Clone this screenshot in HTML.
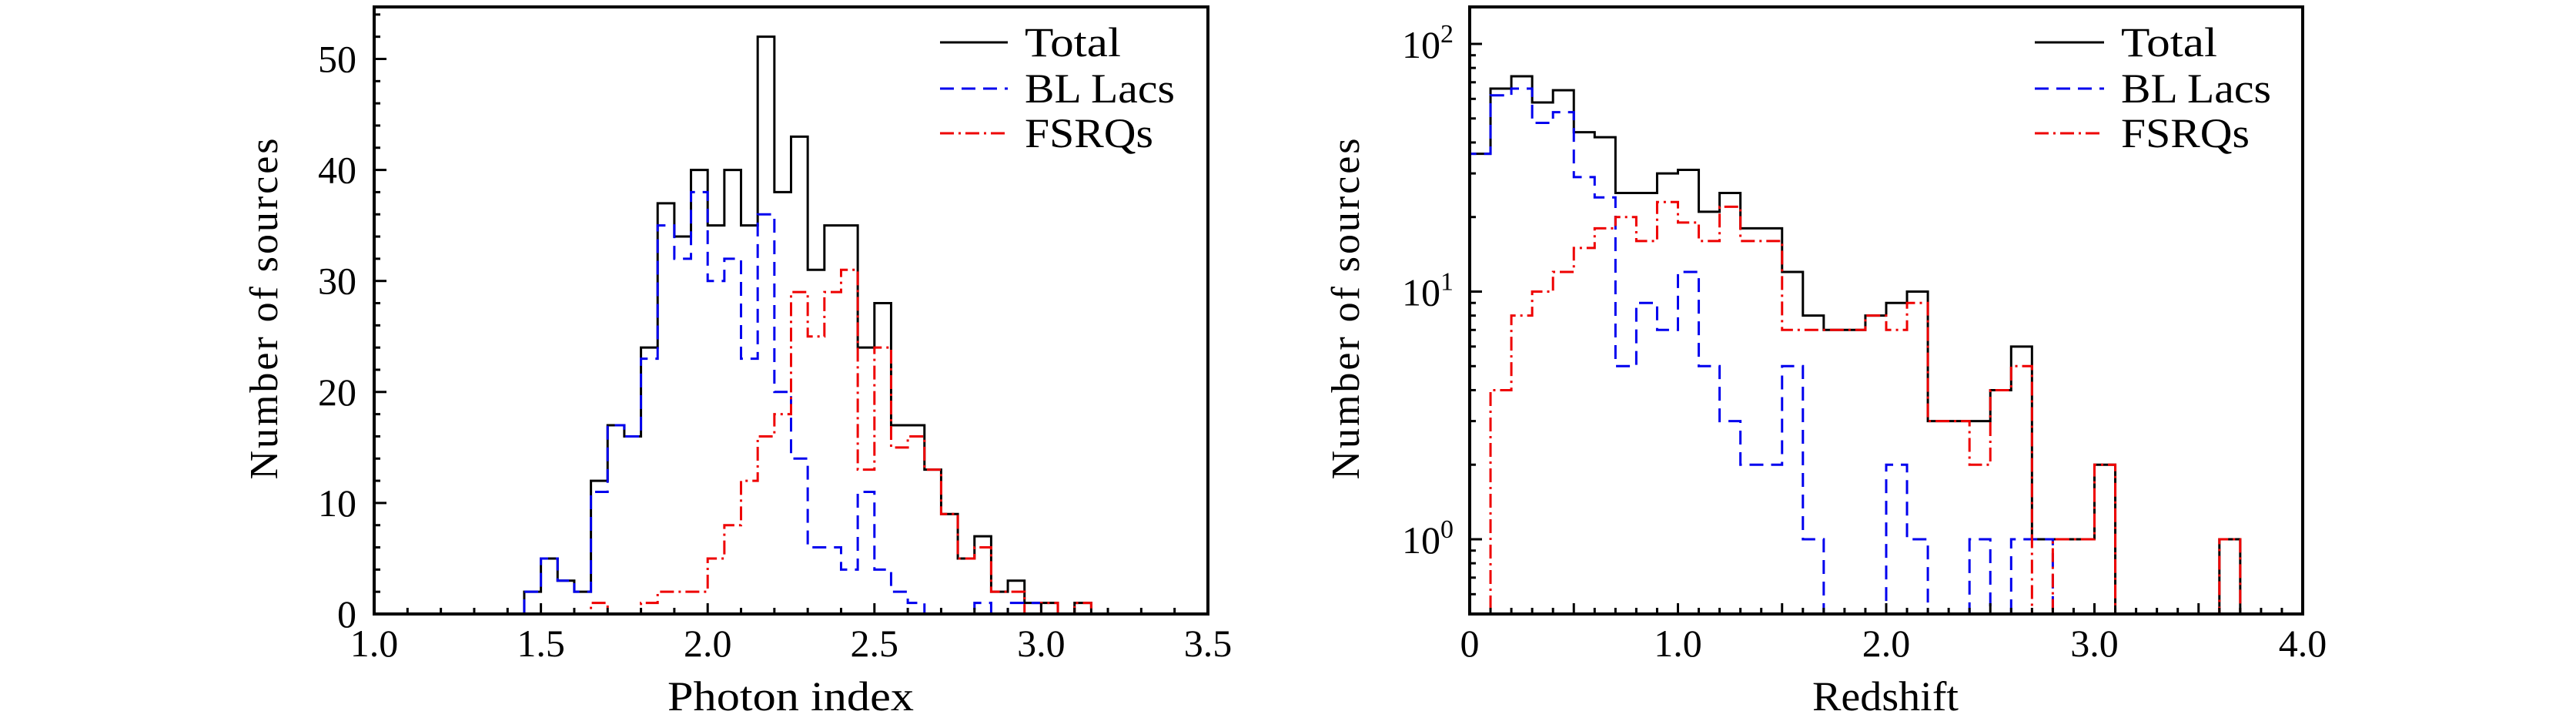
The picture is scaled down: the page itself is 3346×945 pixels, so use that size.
<!DOCTYPE html>
<html><head><meta charset="utf-8"><style>
html,body{margin:0;padding:0;background:#fff;}
svg{display:block;}
svg text{font-family:"Liberation Serif","DejaVu Serif",serif;}
</style></head><body>
<svg id="chart" width="3346" height="945" viewBox="0 0 3346 945" xmlns="http://www.w3.org/2000/svg" font-family="Liberation Serif, serif">
<g id="left"></g>
<g id="right"></g>
</svg>
<script>
// ---- Left panel data (photon index, bin width 0.05) ----
const gammaBinStart = 1.45;
const gammaBinWidth = 0.05;
const gammaTotal = [2,5,3,2,12,17,16,24,37,34,40,35,40,35,52,38,43,31,35,35,24,28,17,17,13,9,5,7,2,3,1,1,0,1];
const gammaBL    = [2,5,3,2,11,17,16,23,35,32,38,30,32,23,36,20,14,6,6,4,11,4,2,1,0,0,0,1,0,1,1,0,0,0];
const gammaFSRQ  = [0,0,0,0,1,0,0,1,2,2,2,5,8,12,16,18,29,25,29,31,13,24,15,16,13,9,5,6,2,2,0,1,0,1];
const gammaXTicks = ["1.0","1.5","2.0","2.5","3.0","3.5"];
const gammaYTicks = [0,10,20,30,40,50];

// ---- Right panel data (redshift, bin width 0.1) ----
const zBinStart = 0.0;
const zBinWidth = 0.1;
const zTotal = [36,66,74,58,65,44,42,25,25,30,31,21,25,18,18,12,8,7,7,8,9,10,3,3,3,4,6,1,1,1,2,0,0,0,0,0,1];
const zBL    = [36,62,66,48,53,29,24,5,9,7,12,5,3,2,2,5,1,0,0,0,2,1,0,0,1,0,1,1,0,0,0,0,0,0,0,0,0];
const zFSRQ  = [0,4,8,10,12,15,18,20,16,23,19,16,22,16,16,7,7,7,7,8,7,9,3,3,2,4,5,0,1,1,2,0,0,0,0,0,1];
const zXTicks = ["0","1.0","2.0","3.0","4.0"];
const zYTickExp = [0,1,2];

const NS="http://www.w3.org/2000/svg";
const FONT="Liberation Serif, DejaVu Serif, serif";
function mk(tag, attrs, parent){const e=document.createElementNS(NS,tag);for(const k in attrs)e.setAttribute(k,attrs[k]);if(tag==="text")e.setAttribute("font-family",FONT);if(parent)parent.appendChild(e);return e;}

const styles = {
  total:{stroke:"#000",dash:null},
  bl:{stroke:"#0000ee",dash:"18 10"},
  fsrq:{stroke:"#ee0000",dash:"18 6 3 6"}
};

function stepPath(g, xs, ys, xmin, xmax, start, width, vals, st, name){
  let d="M"+xs(xmin)+","+ys(0)+" L"+xs(start)+","+ys(0);
  for(let i=0;i<vals.length;i++){
    const a=start+i*width, b=a+width;
    d+=" L"+xs(a)+","+ys(vals[i])+" L"+xs(b)+","+ys(vals[i]);
  }
  const last=start+vals.length*width;
  d+=" L"+xs(last)+","+ys(0)+" L"+xs(xmax)+","+ys(0);
  const p=mk("path",{d:d,fill:"none",stroke:st.stroke,"stroke-width":3,"stroke-linejoin":"miter"},g);
  if(st.dash)p.setAttribute("stroke-dasharray",st.dash);
  
  
}

function legend(g, lx0, lx1, tx){
  const items=[["Total",styles.total,55,125],["BL Lacs",styles.bl,115,195],["FSRQs",styles.fsrq,173,167]];
  items.forEach(([label,st,y,w])=>{
    const grp=mk("g",{},g);
    
    
    const l=mk("line",{x1:lx0,x2:lx1,y1:y,y2:y,stroke:st.stroke,"stroke-width":3},grp);
    if(st.dash)l.setAttribute("stroke-dasharray",st.dash);
    const t=mk("text",{x:tx,y:y+18,"font-size":54,textLength:w,lengthAdjust:"spacingAndGlyphs"},grp);
    t.textContent=label;
  });
}

// ---------- Left panel ----------
(function(){
  const g=document.getElementById("left");
  const L=486,R=1569,T=9,B=797;
  const xmin=1.0,xmax=3.5;
  const xs=v=>L+(v-xmin)/(xmax-xmin)*(R-L);
  const ys=v=>B-v*14.41;
  stepPath(g,xs,ys,xmin,xmax,gammaBinStart,gammaBinWidth,gammaTotal,styles.total,"total-histogram");
  stepPath(g,xs,ys,xmin,xmax,gammaBinStart,gammaBinWidth,gammaBL,styles.bl,"bl-lacs-histogram");
  stepPath(g,xs,ys,xmin,xmax,gammaBinStart,gammaBinWidth,gammaFSRQ,styles.fsrq,"fsrqs-histogram");
  const fr=mk("rect",{x:L,y:T,width:R-L,height:B-T,fill:"none",stroke:"#000","stroke-width":4},g);
  
  for(let v=0;v<=54;v+=2){
    const major=v%10===0;
    mk("line",{x1:L,x2:L+(major?16:8),y1:ys(v),y2:ys(v),stroke:"#000","stroke-width":3},g);
  }
  gammaYTicks.forEach(v=>{const t=mk("text",{x:463,y:ys(v)+17,"font-size":50,"text-anchor":"end"},g);t.textContent=v;
    });
  for(let i=0;i<=25;i++){
    const v=xmin+i*0.1, major=i%5===0;
    mk("line",{x1:xs(v),x2:xs(v),y1:B,y2:B-(major?14:8),stroke:"#000","stroke-width":3},g);
  }
  gammaXTicks.forEach(s=>{const t=mk("text",{x:xs(parseFloat(s)),y:852,"font-size":50,"text-anchor":"middle"},g);t.textContent=s;
    });
  const xt=mk("text",{x:1027,y:922,"font-size":54,"text-anchor":"middle",textLength:320,lengthAdjust:"spacingAndGlyphs"},g);xt.textContent="Photon index";
  
  const yt=mk("text",{x:0,y:0,"font-size":52,"text-anchor":"middle",transform:"translate(360,401) rotate(-90)",textLength:443,lengthAdjust:"spacing"},g);yt.textContent="Number of sources";
  
  legend(g,1221,1309,1331);
})();

// ---------- Right panel ----------
(function(){
  const g=document.getElementById("right");
  const L=1909,R=2991,T=9,B=797;
  const xmin=0,xmax=4.0,dec=321.5,y0=700;
  const xs=v=>L+(v-xmin)/(xmax-xmin)*(R-L);
  const ys=v=>v<=0?B:Math.min(B,y0-Math.log10(v)*dec);
  stepPath(g,xs,ys,xmin,xmax,zBinStart,zBinWidth,zTotal,styles.total,"total-histogram");
  stepPath(g,xs,ys,xmin,xmax,zBinStart,zBinWidth,zBL,styles.bl,"bl-lacs-histogram");
  stepPath(g,xs,ys,xmin,xmax,zBinStart,zBinWidth,zFSRQ,styles.fsrq,"fsrqs-histogram");
  const fr=mk("rect",{x:L,y:T,width:R-L,height:B-T,fill:"none",stroke:"#000","stroke-width":4},g);
  
  [0.6,0.7,0.8,0.9,1,2,3,4,5,6,7,8,9,10,20,30,40,50,60,70,80,90,100].forEach(v=>{
    const major=[1,10,100].includes(v);
    mk("line",{x1:L,x2:L+(major?16:8),y1:ys(v),y2:ys(v),stroke:"#000","stroke-width":3},g);
  });
  zYTickExp.forEach(e=>{
    const t=mk("text",{x:1888,y:ys(Math.pow(10,e))+18,"font-size":50,"text-anchor":"end"},g);
    
    const a=mk("tspan",{},t);a.textContent="10";
    const b=mk("tspan",{dy:-20,"font-size":34},t);b.textContent=String(e);
  });
  for(let i=0;i<=40;i++){
    const v=i*0.1, major=i%5===0;
    mk("line",{x1:xs(v),x2:xs(v),y1:B,y2:B-(major?14:8),stroke:"#000","stroke-width":3},g);
  }
  zXTicks.forEach(s=>{const t=mk("text",{x:xs(parseFloat(s)),y:852,"font-size":50,"text-anchor":"middle"},g);t.textContent=s;
    });
  const xt=mk("text",{x:2449,y:922,"font-size":54,"text-anchor":"middle",textLength:190,lengthAdjust:"spacingAndGlyphs"},g);xt.textContent="Redshift";
  
  const yt=mk("text",{x:0,y:0,"font-size":52,"text-anchor":"middle",transform:"translate(1765,401) rotate(-90)",textLength:443,lengthAdjust:"spacing"},g);yt.textContent="Number of sources";
  
  legend(g,2643,2733,2755);
})();
</script>
</body></html>
